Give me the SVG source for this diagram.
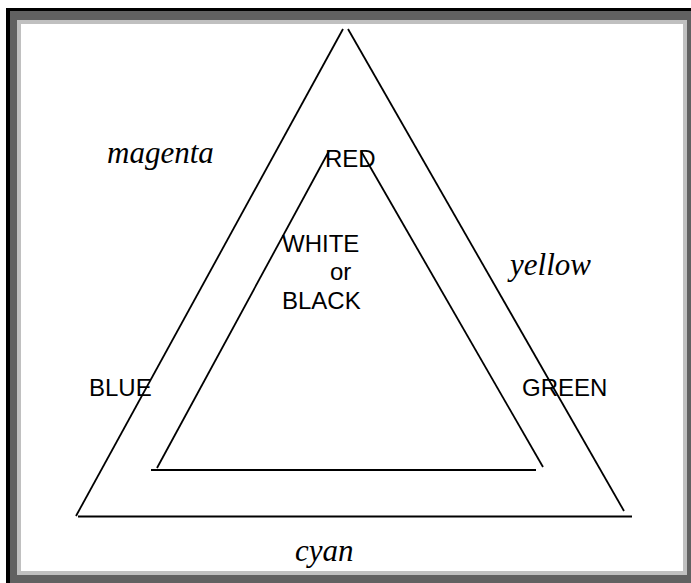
<svg xmlns="http://www.w3.org/2000/svg" width="691" height="583" viewBox="0 0 691 583">
  <style>
    .ln { stroke: #000; stroke-width: 1.8; fill: none; stroke-linecap: butt; }
    .sans { font-family: "Liberation Sans", Arial, sans-serif; font-size: 24px; fill: #000; }
    .serif { font-family: "Liberation Serif", "Times New Roman", serif; font-style: italic; font-size: 31px; fill: #000; }
  </style>
  <g id="frame">
    <rect x="6" y="8" width="685" height="575" fill="#000"/>
    <rect x="10" y="11" width="681" height="572" fill="#616161"/>
    <rect x="17" y="20" width="670" height="555" fill="#c0c0c0"/>
    <rect x="21" y="24" width="662" height="547" fill="#fff"/>
  </g>
  <g id="connectors">
    <line class="ln" x1="343" y1="29" x2="76" y2="516"/>
    <line class="ln" x1="348" y1="29" x2="624" y2="511"/>
    <line class="ln" x1="78" y1="516.5" x2="632" y2="516.5"/>
    <line class="ln" x1="329" y1="151" x2="157" y2="468"/>
    <line class="ln" x1="361" y1="151" x2="543" y2="467"/>
    <line class="ln" x1="151" y1="470" x2="536" y2="470"/>
  </g>
  <g id="node-magenta"><text class="serif" x="107" y="163">magenta</text></g>
  <g id="node-yellow"><text class="serif" x="510" y="275">yellow</text></g>
  <g id="node-cyan"><text class="serif" x="295" y="561">cyan</text></g>
  <g id="node-red"><text class="sans" x="325" y="167">RED</text></g>
  <g id="node-white-black">
    <text class="sans" x="282" y="252">WHITE</text>
    <text class="sans" x="330" y="280">or</text>
    <text class="sans" x="282" y="309">BLACK</text>
  </g>
  <g id="node-blue"><text class="sans" x="89" y="396">BLUE</text></g>
  <g id="node-green"><text class="sans" x="522" y="396">GREEN</text></g>
</svg>
